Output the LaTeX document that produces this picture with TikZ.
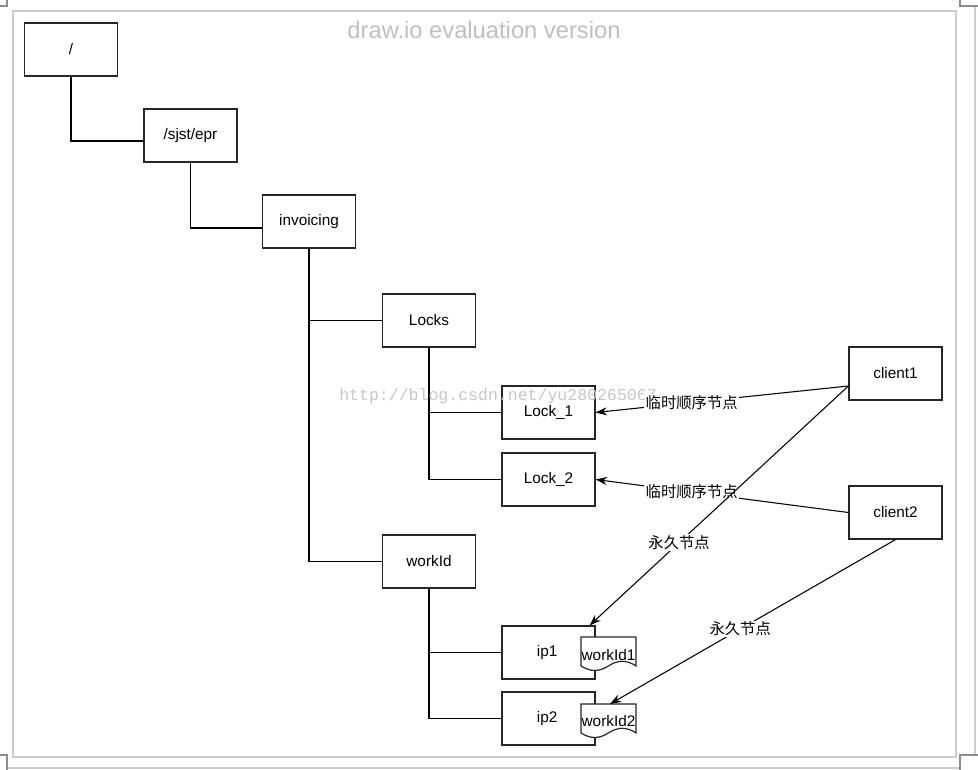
\documentclass[tikz,border=0pt]{standalone}
\usepackage{fontspec}
\setmainfont{Liberation Sans}
\newfontfamily\cjk{Noto Sans CJK SC}
\newfontfamily\wmfont{Liberation Mono}
\usetikzlibrary{arrows.meta,calc}
\begin{document}
\begin{tikzpicture}[x=0.75pt,y=-0.75pt,
  box/.style={draw=black!85, line width=0.9pt, fill=white, minimum width=69.75pt, minimum height=39.75pt, inner sep=0pt, font=\fontsize{11.5}{13}\selectfont},
  tree/.style={draw=black, line width=0.8pt},
  arr/.style={draw=black, line width=0.8pt, -{Stealth[length=8.5pt,width=6pt]}},
  lab/.style={fill=white, inner sep=1pt, font=\cjk\fontsize{11.5}{13}\selectfont},
  doc/.style={draw=black!85, line width=0.9pt, fill=white},
  doctext/.style={inner sep=0pt, font=\fontsize{11.5}{13}\selectfont},
  framel/.style={draw=black!20, line width=1.5pt},
  cornerl/.style={draw=black!45, line width=1.5pt}]
\useasboundingbox (0,0) rectangle (978,770);
% screenshot frame
\draw[framel] (13,11) rectangle (956,757);
\draw[framel] (975,6) -- (975,755);
\draw[framel] (7,768) -- (960,768);
\draw[cornerl] (0,6) -- (7,6) -- (7,0);
\draw[cornerl] (960,0) -- (960,6) -- (978,6);
\draw[cornerl] (978,755) -- (960,755) -- (960,770);
\draw[cornerl] (0,755) -- (7,755) -- (7,770);
% title
\node[text=black!25, font=\fontsize{17.8}{20}\selectfont] (title) at (484,30) {draw.io evaluation version};
% nodes
\node[box] (root) at (71,49.5) {/};
\node[box] (sjst) at (190.5,135.5) {/sjst/epr};
\node[box] (inv) at (309,221.5) {invoicing};
\node[box] (locks) at (429,320.5) {Locks};
\node[box] (lock1) at (548.5,412.5) {Lock\_1};
\node[box] (lock2) at (548.5,479.5) {Lock\_2};
\node[box] (workid) at (429,561.5) {workId};
\node[box] (ip1) at (548.5,652.5) {\hspace*{-2pt}ip1};
\node[box] (ip2) at (548.5,718.5) {\hspace*{-2pt}ip2};
\node[box] (client1) at (895.5,373.5) {client1};
\node[box] (client2) at (895.5,512.5) {client2};
% tree connectors
\draw[tree] (root.south) |- ($(sjst.west)+(0,5.5)$);
\draw[tree] (sjst.south) |- ($(inv.west)+(0,6.5)$);
\draw[tree] (inv.south) |- (locks.west);
\draw[tree] (inv.south) |- (workid.west);
\draw[tree] (locks.south) |- (lock1.west);
\draw[tree] (locks.south) |- (lock2.west);
\draw[tree] (workid.south) |- (ip1.west);
\draw[tree] (workid.south) |- (ip2.west);
% document shapes
\begin{scope}[shift={(581,637)}]
\draw[doc] (0,0) -- (55,0) -- (55,28.9) .. controls (45.8,22.8) and (36.7,22.8) .. (27.5,28.9) .. controls (18.3,35.0) and (9.2,35.0) .. (0,28.9) -- cycle;
\end{scope}
\node[doctext] (wid1) at (608.5,655) {workId1};
\begin{scope}[shift={(581,704)}]
\draw[doc] (0,0) -- (55,0) -- (55,28.9) .. controls (45.8,22.8) and (36.7,22.8) .. (27.5,28.9) .. controls (18.3,35.0) and (9.2,35.0) .. (0,28.9) -- cycle;
\end{scope}
\node[doctext] (wid2) at (608.5,721) {workId2};
\coordinate (d2top) at (610,704);
% watermark
\node[text=black!22, font=\wmfont\fontsize{12.4}{14}\selectfont, inner sep=0pt] (wm) at (498,396) {http://blog.csdn.net/yu280265067};
% client arrows
\coordinate (c1out) at ($(client1.west)+(0,12.5)$);
\draw[arr] (c1out) -- node[lab, pos=0.62] {临时顺序节点} (lock1.east);
\draw[arr] (client2.west) -- node[lab, pos=0.62] {临时顺序节点} (lock2.east);
\draw[arr] (c1out) -- node[lab, pos=0.654] {永久节点} ($(ip1.north east)+(-6,0)$);
\draw[arr] (client2.south) -- node[lab, pos=0.544] {永久节点} (d2top);
\end{tikzpicture}
\end{document}
